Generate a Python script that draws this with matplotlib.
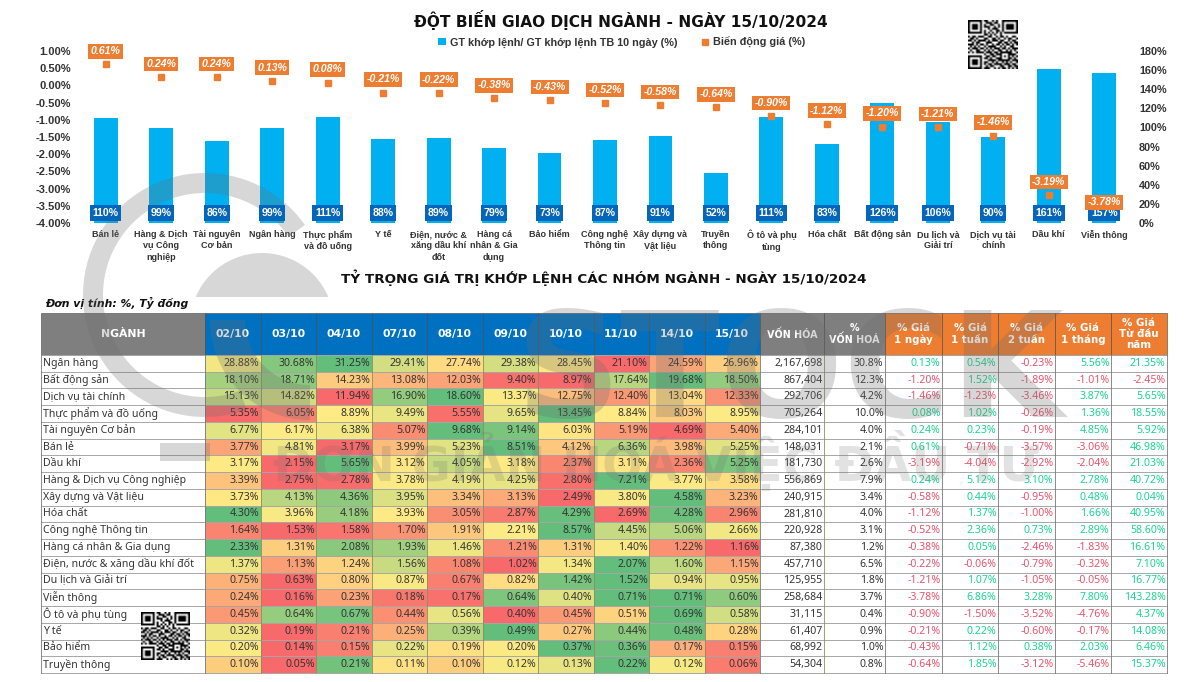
import numpy as np
import matplotlib
matplotlib.use("Agg")
import matplotlib.pyplot as plt
from matplotlib.colors import LinearSegmentedColormap, TwoSlopeNorm
from matplotlib.patches import Rectangle, Wedge, Circle

plt.rcParams['font.family'] = ['Noto Sans', 'DejaVu Sans']

# top chart
chart_sectors = ["Bán lẻ", "Hàng & Dịch\nvụ Công\nnghiệp", "Tài nguyên\nCơ bản", "Ngân hàng",
                 "Thực phẩm\nvà đồ uống", "Y tế", "Điện, nước &\nxăng dầu khí\nđốt",
                 "Hàng cá\nnhân & Gia\ndụng", "Bảo hiểm", "Công nghệ\nThông tin",
                 "Xây dựng và\nVật liệu", "Truyền\nthông", "Ô tô và phụ\ntùng", "Hóa chất",
                 "Bất động sản", "Du lịch và\nGiải trí", "Dịch vụ tài\nchính", "Dầu khí", "Viễn thông"]
volume_ratio = [110, 99, 86, 99, 111, 88, 89, 79, 73, 87, 91, 52, 111, 83, 126, 106, 90, 161, 157]
price_move = [0.61, 0.24, 0.24, 0.13, 0.08, -0.21, -0.22, -0.38, -0.43, -0.52, -0.58, -0.64,
              -0.90, -1.12, -1.20, -1.21, -1.46, -3.19, -3.78]
left_ticks = [1.0, 0.5, 0.0, -0.5, -1.0, -1.5, -2.0, -2.5, -3.0, -3.5, -4.0]
right_ticks = [0, 20, 40, 60, 80, 100, 120, 140, 160, 180]

# table
dates = ["02/10", "03/10", "04/10", "07/10", "08/10", "09/10", "10/10", "11/10", "14/10", "15/10"]
sectors = ["Ngân hàng", "Bất động sản", "Dịch vụ tài chính", "Thực phẩm và đồ uống", "Tài nguyên Cơ bản",
           "Bán lẻ", "Dầu khí", "Hàng & Dịch vụ Công nghiệp", "Xây dựng và Vật liệu", "Hóa chất",
           "Công nghệ Thông tin", "Hàng cá nhân & Gia dụng", "Điện, nước & xăng dầu khí đốt",
           "Du lịch và Giải trí", "Viễn thông", "Ô tô và phụ tùng", "Y tế", "Bảo hiểm", "Truyền thông"]
shares = [
    [28.88, 30.68, 31.25, 29.41, 27.74, 29.38, 28.45, 21.10, 24.59, 26.96],
    [18.10, 18.71, 14.23, 13.08, 12.03, 9.40, 8.97, 17.64, 19.68, 18.50],
    [15.13, 14.82, 11.94, 16.90, 18.60, 13.37, 12.75, 12.40, 13.04, 12.33],
    [5.35, 6.05, 8.89, 9.49, 5.55, 9.65, 13.45, 8.84, 8.03, 8.95],
    [6.77, 6.17, 6.38, 5.07, 9.68, 9.14, 6.03, 5.19, 4.69, 5.40],
    [3.77, 4.81, 3.17, 3.99, 5.23, 8.51, 4.12, 6.36, 3.98, 5.25],
    [3.17, 2.15, 5.65, 3.12, 4.05, 3.18, 2.37, 3.11, 2.36, 5.25],
    [3.39, 2.75, 2.78, 3.78, 4.19, 4.25, 2.80, 7.21, 3.77, 3.58],
    [3.73, 4.13, 4.36, 3.95, 3.34, 3.13, 2.49, 3.80, 4.58, 3.23],
    [4.30, 3.96, 4.18, 3.93, 3.05, 2.87, 4.29, 2.69, 4.28, 2.96],
    [1.64, 1.53, 1.58, 1.70, 1.91, 2.21, 8.57, 4.45, 5.06, 2.66],
    [2.33, 1.31, 2.08, 1.93, 1.46, 1.21, 1.31, 1.40, 1.22, 1.16],
    [1.37, 1.13, 1.24, 1.56, 1.08, 1.02, 1.34, 2.07, 1.60, 1.15],
    [0.75, 0.63, 0.80, 0.87, 0.67, 0.82, 1.42, 1.52, 0.94, 0.95],
    [0.24, 0.16, 0.23, 0.18, 0.17, 0.64, 0.40, 0.71, 0.71, 0.60],
    [0.45, 0.64, 0.67, 0.44, 0.56, 0.40, 0.45, 0.51, 0.69, 0.58],
    [0.32, 0.19, 0.21, 0.25, 0.39, 0.49, 0.27, 0.44, 0.48, 0.28],
    [0.20, 0.14, 0.15, 0.22, 0.19, 0.20, 0.37, 0.36, 0.17, 0.15],
    [0.10, 0.05, 0.21, 0.11, 0.10, 0.12, 0.13, 0.22, 0.12, 0.06],
]
market_cap = [2167698, 867404, 292706, 705264, 284101, 148031, 181730, 556869, 240915, 281810,
              220928, 87380, 457710, 125955, 258684, 31115, 61407, 68992, 54304]
cap_share = [30.8, 12.3, 4.2, 10.0, 4.0, 2.1, 2.6, 7.9, 3.4, 4.0, 3.1, 1.2, 6.5, 1.8, 3.7, 0.4, 0.9, 1.0, 0.8]
price_1d = [0.13, -1.20, -1.46, 0.08, 0.24, 0.61, -3.19, 0.24, -0.58, -1.12, -0.52, -0.38, -0.22, -1.21, -3.78, -0.90, -0.21, -0.43, -0.64]
price_1w = [0.54, 1.52, -1.23, 1.02, 0.23, -0.71, -4.04, 5.12, 0.44, 1.37, 2.36, 0.05, -0.06, 1.07, 6.86, -1.50, 0.22, 1.12, 1.85]
price_2w = [-0.23, -1.89, -3.46, -0.26, -0.19, -3.57, -2.92, 3.10, -0.95, -1.00, 0.73, -2.46, -0.79, -1.05, 3.28, -3.52, -0.60, 0.38, -3.12]
price_1m = [5.56, -1.01, 3.87, 1.36, 4.85, -3.06, -2.04, 2.78, 0.48, 1.66, 2.89, -1.83, -0.32, -0.05, 7.80, -4.76, -0.17, 2.03, -5.46]
price_ytd = [21.35, -2.45, 5.65, 18.55, 5.92, 46.98, 21.03, 40.72, 0.04, 40.95, 58.60, 16.61, 7.10, 16.77, 143.28, 4.37, 14.08, 6.46, 15.37]
price_headers = ["% Giá\n1 ngày", "% Giá\n1 tuần", "% Giá\n2 tuần", "% Giá\n1 tháng", "% Giá\nTừ đầu\nnăm"]

# qr code modules, hand typed
qr_rows = [
    "1111111011001010011111111", "1000001001110110010000001", "1011101010011001010111101",
    "1011101011100101010111101", "1011101000101110010111101", "1000001010010011010000001",
    "1111111010101010101111111", "0000000011010100100000000", "1011011100110010110100110",
    "0110100011001101001011001", "1101011110101110110010110", "0010110001110001101101011",
    "1110101101001011010110101", "0101010010111100101001100", "1011101101010111011010111",
    "0100110010101001100101010", "1010111101110110111111001", "0000000010011011100011110",
    "1111111001101100101010101", "1000001011010011100011010", "1011101000111101111110111",
    "1011101011001010010101001", "1011101010110111101110110", "1000001001011000110011011",
    "1111111011100101011010101",
]

BAR_BLUE = "#00b0f0"
ORANGE = "#ed7d31"
DARK_BLUE = "#0070c0"
GREY = "#7f7f7f"
TEXT = "#333333"
BOLD_FONT = "Liberation Sans"
W, H = 1200, 682

fig = plt.figure(figsize=(12, 6.82), dpi=100, facecolor="white")

# ---- top chart ----
ax_bar = fig.add_axes([78 / W, 1 - 223 / H, 1054 / W, 172 / H])
ax_price = ax_bar.twinx()
ax_price.set_zorder(ax_bar.get_zorder() + 1)
ax_price.patch.set_visible(False)

x = np.arange(len(chart_sectors))
ax_bar.bar(x, volume_ratio, width=0.43, color=BAR_BLUE, label="GT khớp lệnh/ GT khớp lệnh TB 10 ngày (%)")
ax_bar.set_ylim(0, 180)
ax_bar.set_xlim(-0.5, len(x) - 0.5)
ax_bar.yaxis.tick_right()
ax_bar.set_yticks(right_ticks)
ax_bar.set_yticklabels([f"{t}%" for t in right_ticks], fontsize=7.8, fontweight="bold", color=TEXT, family=BOLD_FONT)
ax_bar.set_xticks(x)
ax_bar.set_xticklabels(chart_sectors, fontsize=6.5, fontweight="bold", color=TEXT, family=BOLD_FONT, linespacing=1.35)
ax_bar.tick_params(length=0, axis="both", pad=5)

ax_price.plot(x, price_move, ls="none", marker="s", ms=4.8, color=ORANGE, label="Biến động giá (%)")
ax_price.set_ylim(-4, 1)
ax_price.yaxis.tick_left()
ax_price.set_yticks(left_ticks)
ax_price.set_yticklabels([f"{t:.2f}%" for t in left_ticks], fontsize=8, fontweight="bold", color=TEXT, family=BOLD_FONT)
ax_price.tick_params(length=0, pad=5)

for a in (ax_bar, ax_price):
    for s in a.spines.values():
        s.set_visible(False)

for xi, v in zip(x, volume_ratio):
    ax_price.annotate(f"{v}%", (xi, 0), xycoords=ax_price.get_xaxis_transform(), xytext=(0, 7.2),
                      textcoords="offset points", ha="center", va="center",
                      fontsize=7.6, fontweight="bold", color="white", zorder=5, family=BOLD_FONT,
                      bbox=dict(boxstyle="square,pad=0.25", fc="#0565b8", ec="none"))
for xi, v in zip(x, price_move):
    ax_price.annotate(f"{v:.2f}%", (xi, v), xytext=(0, 9.5), textcoords="offset points", ha="center", va="center",
                      fontsize=7.6, fontweight="bold", fontstyle="italic", color="white", zorder=6, family=BOLD_FONT,
                      bbox=dict(boxstyle="square,pad=0.22", fc=ORANGE, ec="none"))

h1, l1 = ax_bar.get_legend_handles_labels()
h2, l2 = ax_price.get_legend_handles_labels()
fig.legend([h1[0], h2[0]], l1 + l2, loc="center", bbox_to_anchor=(622 / W, 1 - 42 / H), ncol=2, frameon=False,
           prop=dict(size=7.8, weight="bold", family=BOLD_FONT), labelcolor=TEXT, handlelength=0.7,
           handleheight=0.7, columnspacing=2.2, handletextpad=0.4)

# ---- page overlay in pixel coords ----
ax = fig.add_axes([0, 0, 1, 1])
ax.set_xlim(0, W)
ax.set_ylim(H, 0)
ax.axis("off")
ax.patch.set_visible(False)

ax.text(620.5, 20, "ĐỘT BIẾN GIAO DỊCH NGÀNH - NGÀY 15/10/2024", ha="center", va="center",
        fontsize=11.1, fontweight="bold", family="DejaVu Sans", color="#111111")
ax.text(603.5, 278, "TỶ TRỌNG GIÁ TRỊ KHỚP LỆNH CÁC NHÓM NGÀNH - NGÀY 15/10/2024", ha="center", va="center",
        fontsize=9.7, fontweight="bold", family="DejaVu Sans", color="#111111")
ax.text(45, 303, "Đơn vị tính: %, Tỷ đồng", ha="left", va="center", fontsize=7.8, fontweight="bold",
        fontstyle="italic", family="DejaVu Sans", color="#111111")

# ---- table ----
col_edges = [41, 205, 260.5, 316, 371.5, 427, 482.5, 538, 593.5, 649, 704.5, 760, 824, 885, 942, 998, 1055, 1111, 1167]
head_top, head_bot, table_bot = 313, 355, 673
row_h = (table_bot - head_bot) / len(sectors)
GRID = "#a6a6a6"


def head_cell(c0, c1, color, label, size=7.8):
    ax.add_patch(Rectangle((col_edges[c0], head_top), col_edges[c1] - col_edges[c0], head_bot - head_top,
                           fc=color, ec="#444444", lw=0.4))
    ax.text((col_edges[c0] + col_edges[c1]) / 2, (head_top + head_bot) / 2, label, ha="center", va="center",
            fontsize=size, fontweight="bold", color="white", family="DejaVu Sans", linespacing=1.15)


head_cell(0, 1, GREY, "NGÀNH")
for j, d in enumerate(dates):
    head_cell(j + 1, j + 2, DARK_BLUE, d)
head_cell(11, 12, GREY, "VỐN HÓA", 6.9)
head_cell(12, 13, GREY, "%\nVỐN HOÁ", 6.9)
for j, label in enumerate(price_headers):
    head_cell(13 + j, 14 + j, ORANGE, label, 7.4)

heat = LinearSegmentedColormap.from_list("heat", ["#f8696b", "#ffeb84", "#63be7b"])
price_cols = [price_1d, price_1w, price_2w, price_1m, price_ytd]
for i, name in enumerate(sectors):
    y0 = head_bot + i * row_h
    yc = y0 + row_h / 2
    ax.text(col_edges[0] + 2, yc, name, ha="left", va="center", fontsize=7.6, color=TEXT)
    row = shares[i]
    norm = TwoSlopeNorm(vmin=min(row), vcenter=float(np.median(row)), vmax=max(row))
    for j, v in enumerate(row):
        ax.add_patch(Rectangle((col_edges[j + 1], y0), col_edges[j + 2] - col_edges[j + 1], row_h,
                               fc=heat(norm(v)), ec="none"))
        ax.text(col_edges[j + 2] - 1.5, yc, f"{v:.2f}%", ha="right", va="center", fontsize=7.6, color=TEXT)
    ax.text(col_edges[12] - 1.5, yc, f"{market_cap[i]:,}", ha="right", va="center", fontsize=7.6, color=TEXT)
    ax.text(col_edges[13] - 1.5, yc, f"{cap_share[i]:.1f}%", ha="right", va="center", fontsize=7.6, color=TEXT)
    for j, col in enumerate(price_cols):
        v = col[i]
        ax.text(col_edges[14 + j] - 1.5, yc, f"{v:.2f}%", ha="right", va="center", fontsize=7.6,
                color="#19d492" if v >= 0 else "#e8536b")

# grid lines
for i in range(len(sectors) + 1):
    yy = head_bot + i * row_h
    ax.plot([col_edges[0], col_edges[-1]], [yy, yy], color=GRID, lw=0.7)
for j in range(len(col_edges)):
    c = "#777777" if j in (0, 1, 11) or j >= 13 else "#8a8f60"
    ax.plot([col_edges[j], col_edges[j]], [head_bot, table_bot], color=c, lw=0.6)

# ---- watermark on top ----
WM = dict(fc="#6e6e6e", ec="none", alpha=0.27, zorder=20)
ax.add_patch(Wedge((205, 295), 122, 70, 325, width=20, **WM))
dome = Circle((262, 325), 72, **WM)
ax.add_patch(dome)
dome.set_clip_path(Rectangle((180, 240), 160, 57, transform=ax.transData))
ax.add_patch(Wedge((310, 320), 100, 90, 180, width=35, **WM))
ax.add_patch(Rectangle((160, 443), 50, 18, **WM))
ax.text(790, 417, "STOCK", ha="center", va="baseline", fontsize=105, fontweight="bold",
        family="DejaVu Sans", color="#6e6e6e", alpha=0.27, zorder=20)
ax.text(656, 481, "ĐƠN GIẢN HOÁ VIỆC ĐẦU TƯ", ha="center", va="baseline", fontsize=34.5, fontweight="bold",
        family="DejaVu Sans", color="#6e6e6e", alpha=0.2, zorder=20)

# ---- qr codes ----
qr = np.array([[int(c) for c in r] for r in qr_rows])
for extent in ((968, 1018, 69, 20), (141, 190, 660, 612)):
    ax.imshow(1 - qr, cmap="gray", vmin=0, vmax=1, extent=extent, interpolation="bilinear", zorder=25, aspect="auto")
ax.set_xlim(0, W)
ax.set_ylim(H, 0)

fig.savefig("out.png", dpi=100)
